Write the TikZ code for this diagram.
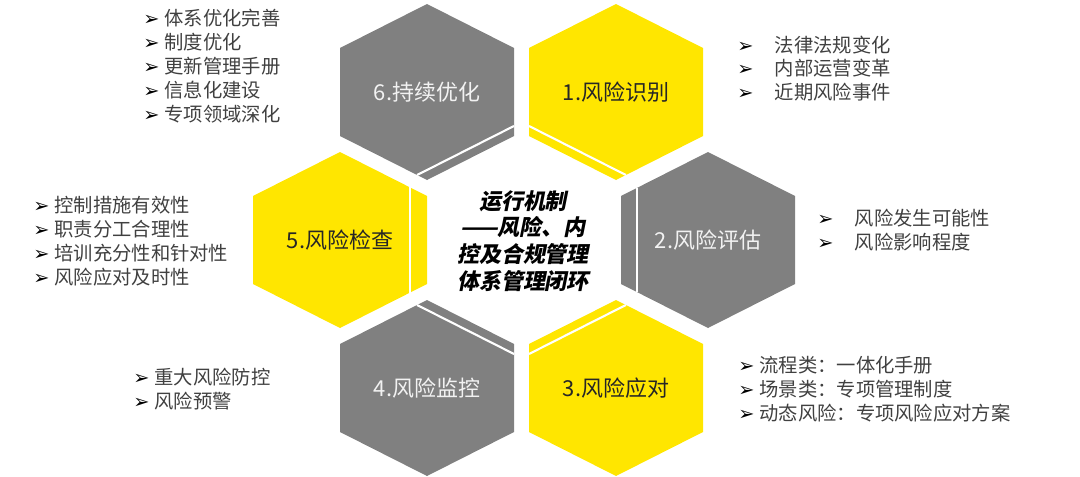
\documentclass[tikz,border=0pt]{standalone}
\usepackage{fontspec}
\usepackage{xcolor}
\usepackage{tikz}
\setmainfont{Noto Sans CJK SC}
\newfontfamily\symfont{DejaVu Sans}
\newfontfamily\corefont{Noto Sans CJK SC}[FakeSlant=0.2]
\definecolor{hexyellow}{RGB}{255,230,0}
\definecolor{hexgrey}{RGB}{128,128,128}
\definecolor{listtext}{RGB}{64,64,64}
\newcommand{\hexcell}[2]{\fill[#1] (#2) ++(0,-88) -- ++(87,44) -- ++(0,88) -- ++(-87,44) -- ++(-87,-44) -- ++(0,-88) -- cycle;}
\newcommand{\itm}{{\color{black}\symfont\char"27A2}\hspace{0.25em}}
\newcommand{\itmw}{{\color{black}\symfont\char"27A2}\hspace{1.1em}}

\begin{document}
\begin{tikzpicture}[x=0.02cm, y=-0.02cm,
  hexlabel/.style={inner sep=0pt, font=\fontsize{12.5}{15}\selectfont},
  listbox/.style={anchor=west, inner sep=0pt, align=left, text=listtext, font=\fontsize{11}{13.6}\selectfont},
  cutline/.style={white, line width=1.2pt}]
\useasboundingbox (0,0) rectangle (1080,477);

% hexagons
\hexcell{hexgrey}{427,92}
\hexcell{hexyellow}{616,92}
\hexcell{hexgrey}{708,240}
\hexcell{hexyellow}{616,388}
\hexcell{hexgrey}{427,388}
\hexcell{hexyellow}{340,240}

\draw[cutline] (417.1,175) -- (514,126);
\draw[cutline] (529,126) -- (625.9,175);
\draw[cutline] (637,187.9) -- (637,292.1);
\draw[cutline] (529,354) -- (625.9,305);
\draw[cutline] (417.1,305) -- (514,354);
\draw[cutline] (410,187.4) -- (410,292.6);

\node[hexlabel, text=white!95!black] (h6) at (427,92) {6.持续优化};
\node[hexlabel, text=black!85] (h1) at (616,92) {1.风险识别};
\node[hexlabel, text=white!95!black] (h2) at (708,240) {2.风险评估};
\node[hexlabel, text=black!85] (h3) at (616,388) {3.风险应对};
\node[hexlabel, text=white!95!black] (h4) at (427,388) {4.风险监控};
\node[hexlabel, text=black!85] (h5) at (340,240) {5.风险检查};

\node[inner sep=0pt, align=center, font=\corefont\bfseries\fontsize{12.5}{15.2}\selectfont] (core) at (523,241)
  {运行机制\\——风险、内\\控及合规管理\\体系管理闭环};

% lists
\node[listbox] (l6) at (143,66) {\itm 体系优化完善\\\itm 制度优化\\\itm 更新管理手册\\\itm 信息化建设\\\itm 专项领域深化};
\node[listbox] (l1) at (737,68.5) {\itmw 法律法规变化\\\itmw 内部运营变革\\\itmw 近期风险事件};
\node[listbox] (l2) at (817,230) {\itmw 风险发生可能性\\\itmw 风险影响程度};
\node[listbox] (l3) at (738,389) {\itm 流程类：一体化手册\\\itm 场景类：专项管理制度\\\itm 动态风险：专项风险应对方案};
\node[listbox] (l4) at (133,389) {\itm 重大风险防控\\\itm 风险预警};
\node[listbox] (l5) at (33,241) {\itm 控制措施有效性\\\itm 职责分工合理性\\\itm 培训充分性和针对性\\\itm 风险应对及时性};

\end{tikzpicture}
\end{document}
